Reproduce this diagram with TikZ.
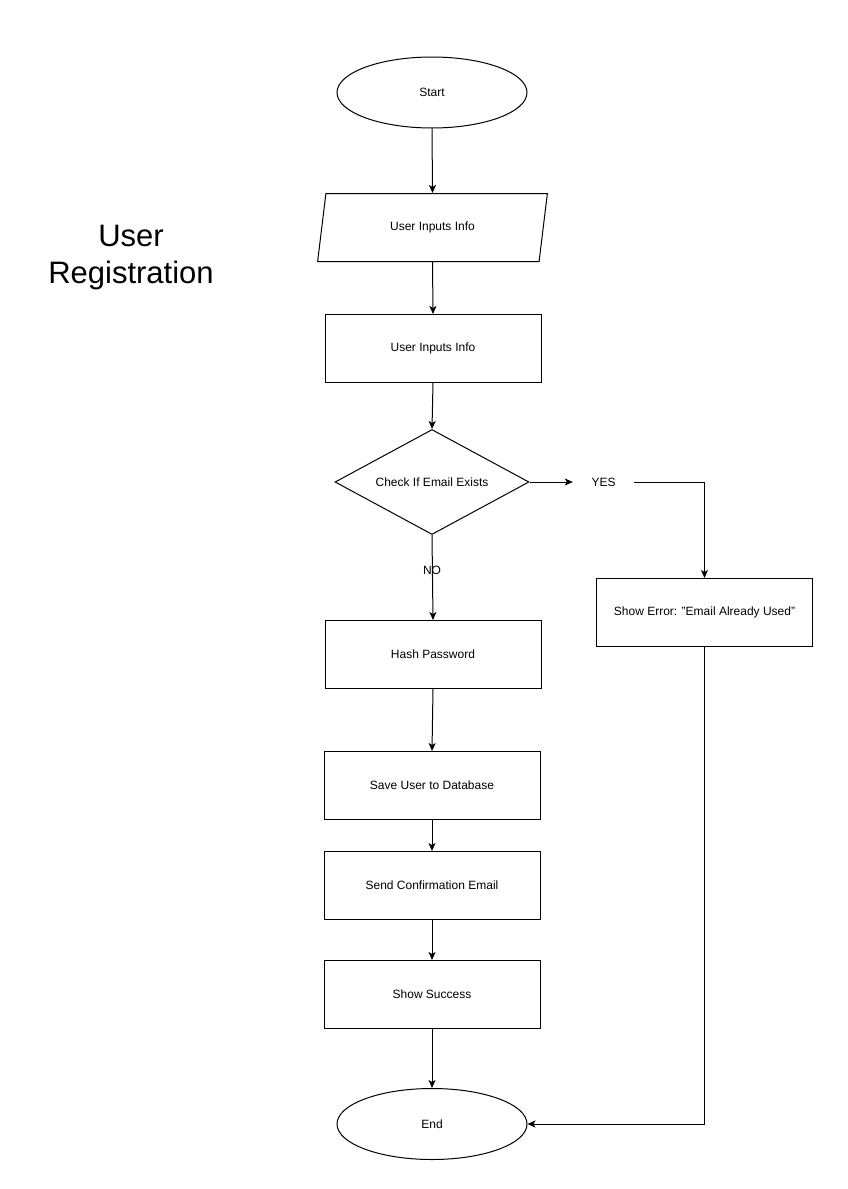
\documentclass[tikz,border=0pt]{standalone}
\usepackage{fontspec}
\setmainfont{Liberation Sans}
\usetikzlibrary{shapes.geometric,arrows.meta}
\begin{document}
\begin{tikzpicture}[x=1pt,y=-1pt,
  base/.style={draw=black,line width=1pt,inner sep=0pt,align=center,font=\fontsize{12}{14}\selectfont},
  term/.style={base,ellipse,minimum width=190pt,minimum height=71pt},
  proc/.style={base,rectangle,minimum width=216pt,minimum height=68pt},
  io/.style={base,trapezium,trapezium stretches=true,trapezium left angle=73.6,trapezium right angle=106.4,minimum width=231pt,minimum height=68pt},
  dec/.style={base,diamond,minimum width=194pt,minimum height=105pt,aspect=1.85},
  lbl/.style={inner sep=0pt,font=\fontsize{12}{14}\selectfont},
  conn/.style={line width=1pt,-{Stealth[length=8pt,width=7pt,inset=2pt]}}
]
\useasboundingbox (0,0) rectangle (847,1189);
\node[inner sep=0pt,align=center,font=\fontsize{31}{37}\selectfont] (title) at (131,258) {User\\Registration};
\node[term] (start) at (432,92.5) {Start};
\node[io] (input) at (432.5,227.5) {User Inputs Info};
\node[proc] (inrect) at (433,348.5) {User Inputs Info};
\node[dec] (check) at (432,482) {Check If Email Exists};
\node[lbl,minimum width=61pt] (yes) at (603.5,482) {YES};
\node[lbl] (no) at (432,570) {NO};
\node[proc] (err) at (704.5,612.5) {Show Error: "Email Already Used"};
\node[proc] (hash) at (433,654.5) {Hash Password};
\node[proc] (save) at (432,785.5) {Save User to Database};
\node[proc] (send) at (432,885.5) {Send Confirmation Email};
\node[proc] (succ) at (432,994.5) {Show Success};
\node[term] (end) at (432,1124) {End};
\draw[conn] (start.south) -- (input.south |- input.north);
\draw[conn] (input.south) -- (inrect.north);
\draw[conn] (inrect.south) -- (check.north);
\draw[conn] (check.east) -- (check.east -| yes.west);
\draw[conn] (check.east -| yes.east) -| (err.north);
\draw[conn] (check.south) -- (hash.north);
\draw[conn] (hash.south) -- (save.north);
\draw[conn] (save.south) -- (send.north);
\draw[conn] (send.south) -- (succ.north);
\draw[conn] (succ.south) -- (end.north);
\draw[conn] (err.south) |- (end.east);
\end{tikzpicture}
\end{document}
